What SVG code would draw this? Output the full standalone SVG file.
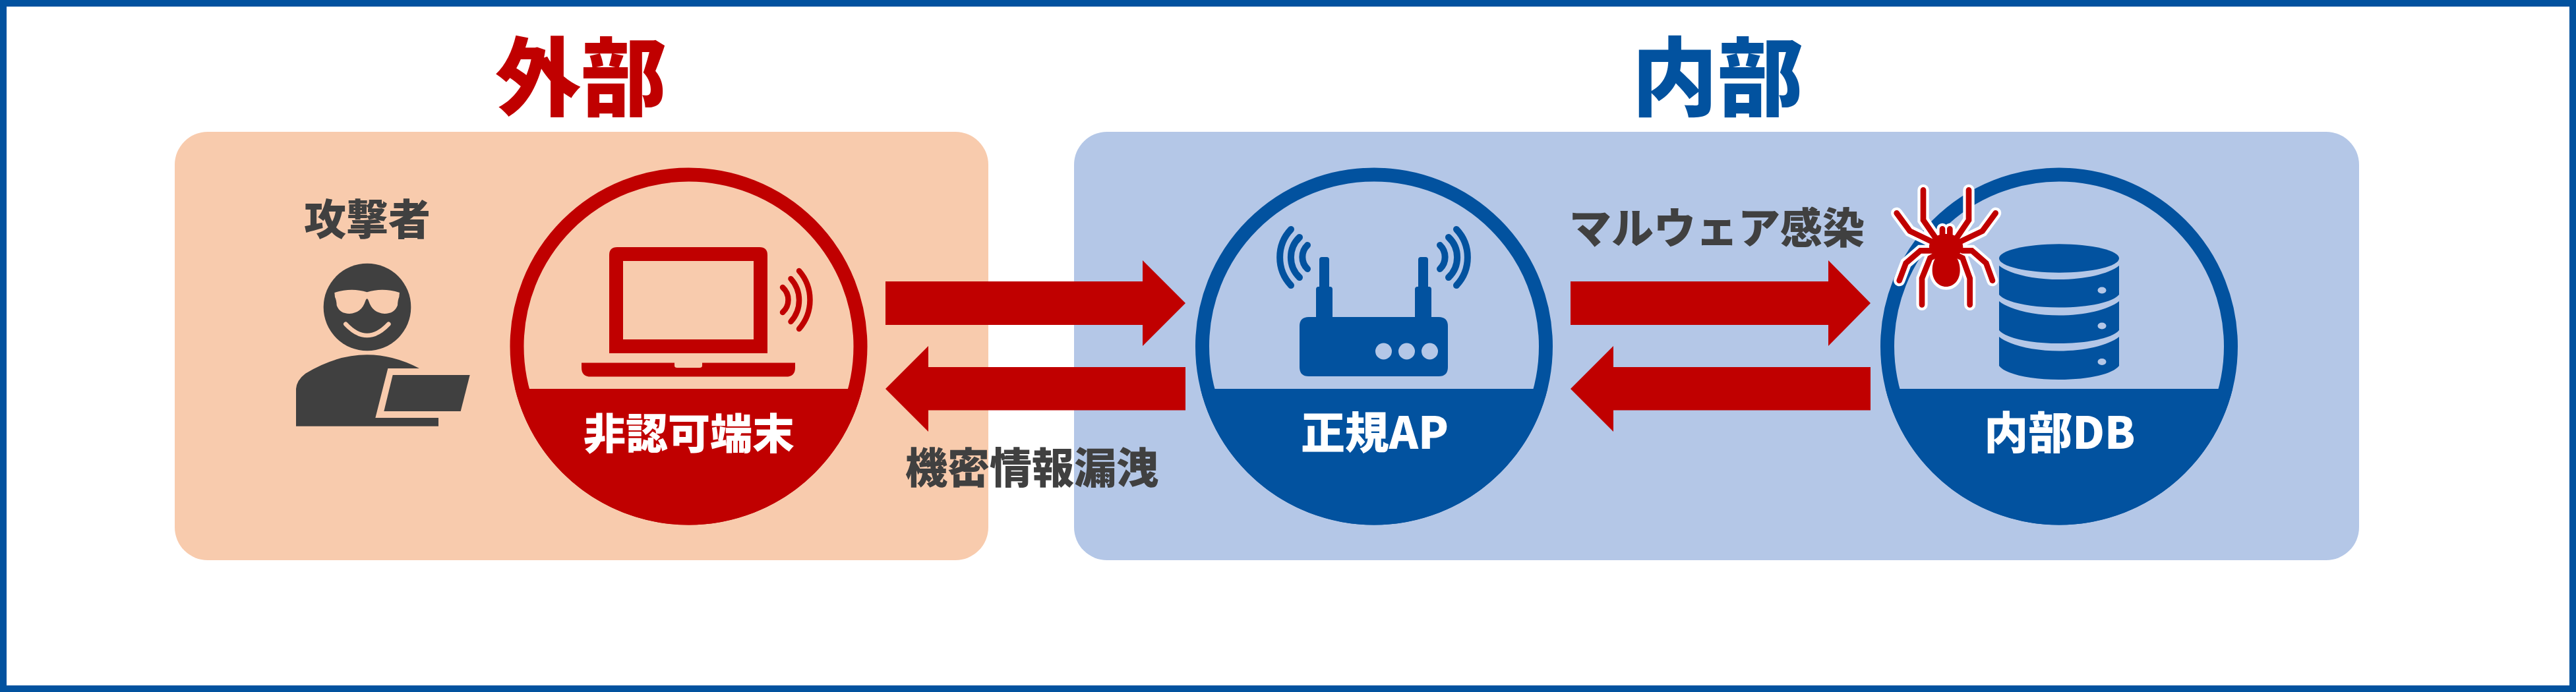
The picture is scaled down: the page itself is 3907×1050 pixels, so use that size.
<svg xmlns="http://www.w3.org/2000/svg" width="3907" height="1050" viewBox="0 0 3907 1050">
<style>
text{font-family:"Noto Sans CJK JP","Noto Sans",sans-serif;font-weight:900;text-anchor:middle}
.lbl{font-size:64px;fill:#404040}
.wh{font-size:64px;fill:#fff}
.big{font-size:130px}
.lat{font-size:67px}
.red{fill:#C00000}
.blu{fill:#02529F}
.ringR{fill:none;stroke:#C00000;stroke-width:21}
.ringB{fill:none;stroke:#02529F;stroke-width:21}
.wb{fill:none;stroke:#02529F;stroke-width:10;stroke-linecap:round}
.wr{fill:none;stroke:#C00000;stroke-width:8.5;stroke-linecap:round}
.halo{fill:none;stroke:#fff;stroke-width:52;stroke-linecap:round;stroke-linejoin:miter}
.leg{fill:none;stroke:#C00000;stroke-width:26;stroke-linecap:round;stroke-linejoin:miter}
</style>
<defs>
<path id="sl" d="M291 85V222L345 300M498 85V222L445 300M170 190L230 272L330 320M620 190L560 272L460 320M330 361H278L212 418L182 497M470 361H512L577 418L606 497M350 380L322 395L285 487V607M440 380L470 395L503 487V607M378 290V262M412 290V262"/>
<path id="sb" d="M395 285C440 285 472 310 472 345C472 362 458 376 440 385C452 410 458 425 458 450C458 495 430 525 395 525C360 525 332 495 332 450C332 425 338 410 350 385C332 376 318 362 318 345C318 310 350 285 395 285Z"/>
</defs>
<rect id="frame" x="5" y="5" width="3897" height="1040" fill="#fff" stroke="#02529F" stroke-width="10"/>
<g id="zone-outside">
<rect x="265" y="200" width="1234" height="650" rx="50" fill="#F8CBAD"/>
<text x="881" y="165" class="red big">外部</text>
</g>
<g id="zone-inside">
<rect x="1629" y="200" width="1949" height="650" rx="50" fill="#B4C7E7"/>
<text x="2605" y="165" class="blu big">内部</text>
</g>
<g id="attacker">
<text x="557" y="356" class="lbl">攻撃者</text>
<g transform="translate(420 380) scale(.33333)">
<circle cx="411" cy="258" r="199" fill="#404040"/>
<path fill="#F8CBAD" d="M262 192Q340 168 410 190Q480 168 558 192L556 212Q550 225 549 250Q535 288 490 288Q435 285 418 232Q410 208 402 232Q385 285 330 288Q285 288 272 250Q271 225 264 212Z"/>
<path fill="none" stroke="#F8CBAD" stroke-width="20" stroke-linecap="round" d="M313 335Q410 439 508 335"/>
<path fill="#404040" d="M87 800V630Q90 590 130 560Q270 475 410 475Q530 475 648 537H505L448 762H735V800Z"/>
<path fill="#404040" d="M527 567H878L836 732H487Z"/>
</g>
</g>
<g id="terminal">
<circle class="ringR" cx="1044.5" cy="525.5" r="260.5"/>
<path class="red" d="M781.3 590A271 271 0 0 0 1307.7 590Z"/>
<path class="red" fill-rule="evenodd" d="M936 375H1152Q1164 375 1164 387V536H924V387Q924 375 936 375ZM945 396V515H1143V396Z"/>
<path class="red" d="M882 550.5H1023V555Q1023 558 1027 558H1061Q1065 558 1065 555V550.5H1206V558Q1206 571.6 1192 571.6H896Q882 571.6 882 558Z"/>
<path class="wr" d="M1212 411A67 67 0 0 1 1212 499M1199.5 423A48.5 48.5 0 0 1 1199.5 488M1187 436A25.5 25.5 0 0 1 1187 474"/>
<text x="1045" y="681" class="wh">非認可端末</text>
</g>
<g id="ap">
<circle class="ringB" cx="2084" cy="525.5" r="260.5"/>
<path class="blu" d="M1820.8 590A271 271 0 0 0 2347.2 590Z"/>
<path class="blu" fill-rule="evenodd" d="M1985 481H1996V439Q1996 435 2000 435H2001V394Q2001 390 2005 390H2012Q2016 390 2016 394V435H2017Q2021 435 2021 439V481H2146V439Q2146 435 2150 435H2151V394Q2151 390 2155 390H2162Q2166 390 2166 394V435H2167Q2171 435 2171 439V481H2182Q2196 481 2196 495V557Q2196 571 2182 571H1985Q1971 571 1971 557V495Q1971 481 1985 481ZM2098.5 520.5A12.5 12.5 0 1 0 2098.5 545.5A12.5 12.5 0 1 0 2098.5 520.5ZM2133.5 520.5A12.5 12.5 0 1 0 2133.5 545.5A12.5 12.5 0 1 0 2133.5 520.5ZM2168.5 520.5A12.5 12.5 0 1 0 2168.5 545.5A12.5 12.5 0 1 0 2168.5 520.5Z"/>
<path class="wb" d="M1958 348A62 62 0 0 0 1958 433M1971 360A42 42 0 0 0 1971 421M1983 372A25 25 0 0 0 1983 408M2209 348A62 62 0 0 1 2209 433M2197 360A42 42 0 0 1 2197 421M2184 372A25 25 0 0 1 2184 408"/>
<text x="2085" y="681" class="wh lat">正規AP</text>
</g>
<g id="db">
<circle class="ringB" cx="3123" cy="525.5" r="260.5"/>
<path class="blu" d="M2859.8 590A271 271 0 0 0 3386.2 590Z"/>
<ellipse class="blu" cx="3123" cy="392" rx="91" ry="21.7"/>
<path class="blu" d="M3032 403C3048 416 3085 424 3123 424C3161 424 3198 416 3214 403V447C3205 458 3170 466.6 3123 466.6C3076 466.6 3041 458 3032 447Z"/>
<path class="blu" d="M3032 457C3048 470 3085 478.6 3123 478.6C3161 478.6 3198 470 3214 457V501C3205 512 3170 521 3123 521C3076 521 3041 512 3032 501Z"/>
<path class="blu" d="M3032 511C3048 524 3085 532.5 3123 532.5C3161 532.5 3198 524 3214 511V555C3205 567 3170 576 3123 576C3076 576 3041 567 3032 555Z"/>
<g fill="#B4C7E7"><ellipse cx="3188" cy="440.5" rx="6.5" ry="5"/><ellipse cx="3188" cy="494.5" rx="6.5" ry="5"/><ellipse cx="3188" cy="549" rx="6.5" ry="5"/></g>
<text x="3124" y="681" class="wh lat">内部DB</text>
</g>
<g id="malware-spider" transform="translate(2820 260) scale(.33333)">
<use href="#sl" class="halo"/>
<use href="#sb" fill="#fff" stroke="#fff" stroke-width="28" stroke-linejoin="round"/>
<use href="#sl" class="leg"/>
<use href="#sb" fill="#C00000"/>
</g>
<g id="connectors" fill="#C00000">
<path d="M1343 427H1733V395L1798 460L1733 525V493H1343Z"/>
<path d="M1798 557H1408V525L1343 590L1408 655V622.5H1798Z"/>
<path d="M2382 427H2773V395L2837 460L2773 525V493H2382Z"/>
<path d="M2837 557H2447V525L2382 590L2447 655V622.5H2837Z"/>
</g>
<g id="labels">
<text x="1565" y="733" class="lbl">機密情報漏洩</text>
<text x="2604" y="369" class="lbl">マルウェア感染</text>
</g>
</svg>
